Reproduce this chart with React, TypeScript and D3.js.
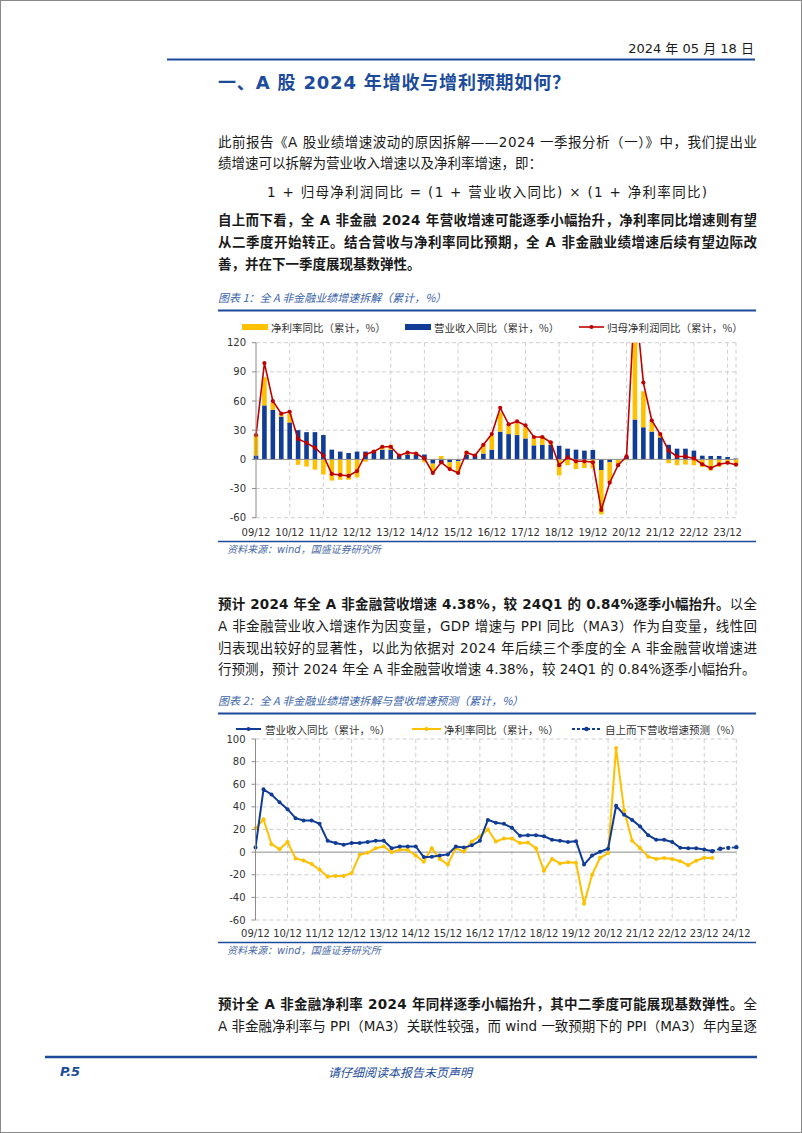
import React from "react";
import * as d3 from "d3";

// ---------- categories ----------
const quarters: string[] = ["09/12"];
for (let y = 10; y <= 24; y++) for (const m of ["03", "06", "09", "12"]) quarters.push(`${y}/${m}`);

const yearTicks1 = ["09/12", "10/12", "11/12", "12/12", "13/12", "14/12", "15/12", "16/12", "17/12", "18/12", "19/12", "20/12", "21/12", "22/12", "23/12"];
const yearTicks2 = [...yearTicks1, "24/12"];
const yTicks1 = [-60, -30, 0, 30, 60, 90, 120];
const yTicks2 = [-60, -40, -20, 0, 20, 40, 60, 80, 100];

// ---------- series (09/12 .. 24/03) ----------
const revenueYoY = [
  4, 55.5, 51, 44, 38, 30, 28, 28, 25, 10,
  8, 6.5, 8, 8, 9, 10, 10, 3.5, 5, 5,
  5, -4.4, -4, -3, -2, 5, 4, 6, 10, 28.5,
  26, 25, 21.5, 14.4, 15, 15, 14, 11, 10, 9,
  9.7, -11, -3, 0.3, 3, 41, 33, 28.5, 22.6, 15,
  11, 11, 9, 3.8, 3.5, 3.5, 2.4, 0.84,
];
const netMarginYoY = [
  21, 29, 7, 2.6, 9, -5.6, -7.4, -10.6, -15.6, -21.8,
  -21, -21, -18.5, -2.4, -0.6, 3.5, 5, 0, 2, 2,
  -3, -8.5, 3.5, -6, -11, 3.5, 0.3, 9.4, 14, 20,
  9.4, 12, 12, 8, 8.5, 3.5, -16.5, -6, -10, -9,
  -9.4, -45.6, -20, -5, -1, 92, 37, 10, 3.5, -4,
  -6, -5.3, -6, -8, -11.5, -7.6, -5, -5.3,
];
const netProfitYoY = [
  25, 99, 60, 47, 49, 21, 17, 12, 4, -15,
  -16, -17, -12, 5, 8, 13, 13, 4, 7, 6,
  1, -14, -3, -10, -14, 7, 4, 15, 26, 53,
  36, 39, 35, 23, 23, 17.5, -6, 2, -2, -2,
  -3, -52, -24, -6, 3, 169, 79, 40, 26, 9,
  3, 3, 1, -5, -9, -5, -3.5, -5.5,
];
const forecastQuarters = ["24/03", "24/06", "24/09", "24/12"];
const forecastRevenue = [0.84, 3.0, 3.8, 4.38];

// ---------- style ----------
const BLUE = "#103c96";
const HEAD_BLUE = "#1c4b9b";
const YELLOW = "#FFC000";
const RED = "#C00000";
const GRID = "#cfcfcf";
const AXIS = "#8c8c8c";
const CN = "'Noto Sans CJK SC', sans-serif";
const MIX = "'DejaVu Sans', 'Noto Sans CJK SC', sans-serif";
const TEXT = "#1a1a1a";

function Chart1() {
  const q = quarters.slice(0, revenueYoY.length);
  const x = d3.scaleLinear().domain([0, q.length - 1]).range([256, 736]);
  const y = d3.scaleLinear().domain([-60, 120]).range([517.7, 342.7]);
  const rows = q.map((k, i) => ({ k, rev: revenueYoY[i], nm: netMarginYoY[i] }));
  const stacked = d3.stack<any>().keys(["rev", "nm"]).offset(d3.stackOffsetDiverging)(rows);
  const colors: Record<string, string> = { rev: BLUE, nm: YELLOW };
  const bw = 4.6;
  const line = d3.line<number>().x((_, i) => x(i)).y((d) => y(d));
  const tickIdx = yearTicks1.map((t) => q.indexOf(t));
  return (
    <g>
      <defs>
        <clipPath id="clip1">
          <rect x={230} y={y(120)} width={530} height={200} />
        </clipPath>
      </defs>
      {yTicks1.filter((t) => t !== 0).map((t) => (
        <line key={t} x1={x(0)} x2={x(q.length - 1)} y1={y(t)} y2={y(t)} stroke={GRID} strokeDasharray="4 3" />
      ))}
      {tickIdx.slice(1).map((i) => (
        <line key={i} x1={x(i)} x2={x(i)} y1={y(120)} y2={y(-60)} stroke={GRID} strokeDasharray="4 3" />
      ))}
      <line x1={x(q.length - 1)} x2={x(q.length - 1)} y1={y(120)} y2={y(-60)} stroke={GRID} strokeDasharray="4 3" />
      <g clipPath="url(#clip1)">
        {stacked.map((s) => (
          <g key={s.key} fill={colors[s.key]}>
            {s.map((d, i) => (
              <rect key={i} x={x(i) - bw / 2} width={bw} y={y(Math.max(d[0], d[1]))} height={Math.abs(y(d[0]) - y(d[1]))} />
            ))}
          </g>
        ))}
        <line x1={x(0)} x2={x(q.length - 1)} y1={y(0)} y2={y(0)} stroke={AXIS} strokeWidth={1} />
        <path d={line(netProfitYoY) || ""} fill="none" stroke={RED} strokeWidth={1.6} />
        {netProfitYoY.map((v, i) => (
          <circle key={i} cx={x(i)} cy={y(v)} r={2.1} fill={RED} />
        ))}
      </g>
      <line x1={x(0)} x2={x(0)} y1={y(120)} y2={y(-60)} stroke={AXIS} />
      {yTicks1.map((t) => (
        <g key={t}>
          <line x1={x(0) - 4} x2={x(0)} y1={y(t)} y2={y(t)} stroke={AXIS} />
          <text x={x(0) - 10} y={y(t)} textAnchor="end" dominantBaseline="central" fontFamily={MIX} fontSize={10} fill="#333">{t}</text>
        </g>
      ))}
      {tickIdx.map((i, k) => (
        <text key={i} x={x(i)} y={532.5} textAnchor="middle" dominantBaseline="central" fontFamily={MIX} fontSize={10} fill="#333">{yearTicks1[k]}</text>
      ))}
      <g fontFamily={CN} fontSize={10.5} fill="#333">
        <rect x={242} y={324} width={26} height={6} fill={YELLOW} />
        <text x={271} y={327} dominantBaseline="central">净利率同比（累计，%）</text>
        <rect x={405} y={324} width={26} height={6} fill={BLUE} />
        <text x={434} y={327} dominantBaseline="central">营业收入同比（累计，%）</text>
        <line x1={579} x2={604} y1={327} y2={327} stroke={RED} strokeWidth={1.6} />
        <circle cx={591.5} cy={327} r={2.1} fill={RED} />
        <text x={607} y={327} dominantBaseline="central">归母净利润同比（累计，%）</text>
      </g>
    </g>
  );
}

function Chart2() {
  const q = quarters;
  const x = d3.scaleLinear().domain([0, q.length - 1]).range([255.5, 736.3]);
  const y = d3.scaleLinear().domain([-60, 100]).range([920, 739]);
  const line = d3.line<[number, number]>().x((d) => x(d[0])).y((d) => y(d[1]));
  const revPts = revenueYoY.map((v, i) => [i, v] as [number, number]);
  const nmPts = netMarginYoY.map((v, i) => [i, v] as [number, number]);
  const fcPts = forecastRevenue.map((v, i) => [q.indexOf(forecastQuarters[i]), v] as [number, number]);
  const tickIdx = yearTicks2.map((t) => q.indexOf(t));
  return (
    <g>
      {yTicks2.filter((t) => t !== 0).map((t) => (
        <line key={t} x1={x(0)} x2={x(q.length - 1)} y1={y(t)} y2={y(t)} stroke={GRID} strokeDasharray="4 3" />
      ))}
      {tickIdx.slice(1).map((i) => (
        <line key={i} x1={x(i)} x2={x(i)} y1={y(100)} y2={y(-60)} stroke={GRID} strokeDasharray="4 3" />
      ))}
      <line x1={x(0)} x2={x(q.length - 1)} y1={y(0)} y2={y(0)} stroke={AXIS} />
      <path d={line(nmPts) || ""} fill="none" stroke={YELLOW} strokeWidth={2} />
      {nmPts.map((d) => (
        <circle key={d[0]} cx={x(d[0])} cy={y(d[1])} r={2} fill={YELLOW} />
      ))}
      <path d={line(revPts) || ""} fill="none" stroke={BLUE} strokeWidth={2} />
      {revPts.map((d) => (
        <circle key={d[0]} cx={x(d[0])} cy={y(d[1])} r={2} fill={BLUE} />
      ))}
      <path d={line(fcPts) || ""} fill="none" stroke={BLUE} strokeWidth={1.8} strokeDasharray="3 2" />
      {fcPts.map((d) => (
        <circle key={d[0]} cx={x(d[0])} cy={y(d[1])} r={2.2} fill={BLUE} />
      ))}
      <line x1={x(0)} x2={x(0)} y1={y(100)} y2={y(-60)} stroke={AXIS} />
      {yTicks2.map((t) => (
        <g key={t}>
          <line x1={x(0) - 4} x2={x(0)} y1={y(t)} y2={y(t)} stroke={AXIS} />
          <text x={x(0) - 10} y={y(t)} textAnchor="end" dominantBaseline="central" fontFamily={MIX} fontSize={10} fill="#333">{t}</text>
        </g>
      ))}
      {tickIdx.map((i, k) => (
        <text key={i} x={x(i)} y={933.7} textAnchor="middle" dominantBaseline="central" fontFamily={MIX} fontSize={10} fill="#333">{yearTicks2[k]}</text>
      ))}
      <g fontFamily={CN} fontSize={10.5} fill="#333">
        <line x1={236} x2={261} y1={729} y2={729} stroke={BLUE} strokeWidth={2} />
        <circle cx={248.5} cy={729} r={2} fill={BLUE} />
        <text x={265} y={729} dominantBaseline="central">营业收入同比（累计，%）</text>
        <line x1={412} x2={441} y1={729} y2={729} stroke={YELLOW} strokeWidth={2} />
        <circle cx={426.5} cy={729} r={2} fill={YELLOW} />
        <text x={444} y={729} dominantBaseline="central">净利率同比（累计，%）</text>
        <line x1={572} x2={601} y1={729} y2={729} stroke={BLUE} strokeWidth={1.8} strokeDasharray="3 2" />
        <circle cx={586.5} cy={729} r={2.2} fill={BLUE} />
        <text x={605} y={729} dominantBaseline="central">自上而下营收增速预测（%）</text>
      </g>
    </g>
  );
}

type Seg = { t: string; b?: boolean };
function Line({ y, segs, justify = true, size = 13.5 }: { y: number; segs: Seg[]; justify?: boolean; size?: number }) {
  const L = 218, R = 757;
  return (
    <text x={L} y={y} dominantBaseline="central" fontFamily={MIX} fontSize={size} fill={TEXT}
      {...(justify ? { textLength: R - L, lengthAdjust: "spacing" } : {})}>
      {segs.map((s, i) => (
        <tspan key={i} fontWeight={s.b ? "bold" : "normal"}>{s.t}</tspan>
      ))}
    </text>
  );
}

function ChartHeader({ y, title }: { y: number; title: string }) {
  return (
    <g>
      <text x={218} y={y} dominantBaseline="central" fontFamily={CN} fontSize={11} fontStyle="italic" fill="#3a63a8">{title}</text>
      <line x1={218} x2={756} y1={y + 13.5} y2={y + 13.5} stroke={HEAD_BLUE} strokeWidth={2} />
    </g>
  );
}

function Source({ y }: { y: number }) {
  return (
    <g>
      <line x1={218} x2={756} y1={y} y2={y} stroke={HEAD_BLUE} strokeWidth={1.5} />
      <text x={227} y={y + 7.5} dominantBaseline="central" fontFamily={MIX} fontSize={10} fontStyle="italic" fill="#4a6aa5">资料来源：wind，国盛证券研究所</text>
    </g>
  );
}

export default function App() {
  return (
    <div style={{ position: "absolute", left: 0, top: 0 }}>
      <svg width={802} height={1133} style={{ display: "block", background: "#fff" }}>
        <rect x={0.5} y={0.5} width={801} height={1132} fill="#fff" stroke="#8a8a8a" />
        <text x={754} y={48} textAnchor="end" dominantBaseline="central" fontFamily={MIX} fontSize={13} fill={TEXT}>2024 年 05 月 18 日</text>
        <line x1={167} x2={755} y1={59.5} y2={59.5} stroke={HEAD_BLUE} strokeWidth={2} />
        <text x={218} y={82} dominantBaseline="central" fontFamily={MIX} fontSize={18} fontWeight="bold" fill={HEAD_BLUE} textLength={352} lengthAdjust="spacing">一、A 股 2024 年增收与增利预期如何？</text>

        <Line y={142} segs={[{ t: "此前报告《A 股业绩增速波动的原因拆解——2024 一季报分析（一）》中，我们提出业" }]} />
        <Line y={163} justify={false} segs={[{ t: "绩增速可以拆解为营业收入增速以及净利率增速，即：" }]} />
        <text x={267} y={192} dominantBaseline="central" fontFamily={MIX} fontSize={13.5} fill={TEXT} textLength={440} lengthAdjust="spacing">1 + 归母净利润同比 = (1 + 营业收入同比) × (1 + 净利率同比)</text>
        <Line y={220} segs={[{ t: "自上而下看，全 A 非金融 2024 年营收增速可能逐季小幅抬升，净利率同比增速则有望", b: true }]} />
        <Line y={242} segs={[{ t: "从二季度开始转正。结合营收与净利率同比预期，全 A 非金融业绩增速后续有望边际改", b: true }]} />
        <Line y={264} justify={false} segs={[{ t: "善，并在下一季度展现基数弹性。", b: true }]} />

        <ChartHeader y={297} title="图表 1：全 A 非金融业绩增速拆解（累计，%）" />
        <Chart1 />
        <Source y={541.5} />

        <Line y={604} segs={[{ t: "预计 2024 年全 A 非金融营收增速 4.38%，较 24Q1 的 0.84%逐季小幅抬升。", b: true }, { t: "以全" }]} />
        <Line y={626} segs={[{ t: "A 非金融营业收入增速作为因变量，GDP 增速与 PPI 同比（MA3）作为自变量，线性回" }]} />
        <Line y={648} segs={[{ t: "归表现出较好的显著性，以此为依据对 2024 年后续三个季度的全 A 非金融营收增速进" }]} />
        <Line y={669} justify={false} segs={[{ t: "行预测，预计 2024 年全 A 非金融营收增速 4.38%，较 24Q1 的 0.84%逐季小幅抬升。" }]} />

        <ChartHeader y={700} title="图表 2：全 A 非金融业绩增速拆解与营收增速预测（累计，%）" />
        <Chart2 />
        <Source y={942.5} />

        <Line y={1004} segs={[{ t: "预计全 A 非金融净利率 2024 年同样逐季小幅抬升，其中二季度可能展现基数弹性。", b: true }, { t: "全" }]} />
        <Line y={1026} segs={[{ t: "A 非金融净利率与 PPI（MA3）关联性较强，而 wind 一致预期下的 PPI（MA3）年内呈逐" }]} />

        <line x1={45} x2={757} y1={1057} y2={1057} stroke={HEAD_BLUE} strokeWidth={2.5} />
        <text x={60} y={1071} dominantBaseline="central" fontFamily={MIX} fontSize={13} fontWeight="bold" fontStyle="italic" fill={HEAD_BLUE}>P.5</text>
        <text x={400} y={1071} textAnchor="middle" dominantBaseline="central" fontFamily={CN} fontSize={12} fontStyle="italic" fill={HEAD_BLUE}>请仔细阅读本报告末页声明</text>
      </svg>
    </div>
  );
}
